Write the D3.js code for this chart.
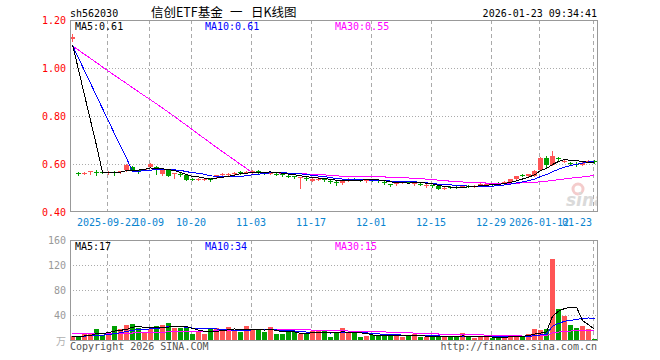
<!DOCTYPE html>
<html>
<head>
<meta charset="utf-8">
<script src="https://cdn.jsdelivr.net/npm/d3@7"></script>
<style>
  body { margin: 0; background: #fff; }
  svg text { font-family: "DejaVu Sans Mono", monospace; font-size: 10px; }
</style>
</head>
<body>
<div id="chart"></div>
<script>
// Header texts
var code = "sh562030";
var titleParts = ["信创ETF基金", "一", "日K线图"];
var stamp = "2026-01-23 09:34:41";

// Daily candles (88 sessions, 2025-09-12 .. 2026-01-23)
var openP = [1.120,0.563,0.560,0.568,0.568,0.567,0.563,0.566,0.570,0.575,
  0.588,0.573,0.575,0.588,0.588,0.558,0.580,0.561,0.559,0.554,
  0.539,0.537,0.536,0.538,0.553,0.555,0.557,0.560,0.566,0.564,
  0.565,0.569,0.566,0.559,0.560,0.557,0.552,0.548,0.540,0.541,
  0.530,0.536,0.538,0.528,0.524,0.519,0.535,0.538,0.537,0.531,
  0.534,0.532,0.527,0.515,0.517,0.524,0.527,0.520,0.518,0.510,
  0.511,0.509,0.498,0.505,0.506,0.505,0.510,0.508,0.514,0.514,
  0.518,0.520,0.519,0.523,0.537,0.556,0.548,0.551,0.576,0.627,
  0.597,0.625,0.612,0.606,0.602,0.596,0.613,0.611];
var closeP = [1.128,0.561,0.562,0.569,0.566,0.565,0.565,0.564,0.571,0.596,
  0.572,0.571,0.578,0.600,0.577,0.574,0.552,0.562,0.557,0.535,
  0.537,0.539,0.538,0.536,0.555,0.557,0.559,0.562,0.564,0.567,
  0.572,0.567,0.561,0.567,0.558,0.555,0.550,0.546,0.546,0.539,
  0.539,0.538,0.536,0.526,0.522,0.532,0.537,0.536,0.535,0.535,
  0.532,0.530,0.519,0.513,0.519,0.527,0.525,0.522,0.516,0.512,
  0.509,0.496,0.500,0.503,0.504,0.508,0.508,0.510,0.516,0.516,
  0.517,0.518,0.527,0.537,0.551,0.554,0.558,0.572,0.627,0.597,
  0.634,0.623,0.614,0.604,0.600,0.606,0.614,0.609];
var highP = [1.140,0.568,0.566,0.570,0.576,0.570,0.570,0.572,0.572,0.598,
  0.590,0.576,0.580,0.606,0.590,0.582,0.581,0.563,0.563,0.556,
  0.542,0.543,0.541,0.540,0.556,0.561,0.563,0.566,0.570,0.569,
  0.574,0.573,0.567,0.569,0.565,0.560,0.556,0.551,0.547,0.544,
  0.541,0.544,0.541,0.533,0.530,0.533,0.541,0.541,0.539,0.537,
  0.537,0.535,0.528,0.518,0.522,0.530,0.530,0.525,0.521,0.516,
  0.513,0.510,0.504,0.508,0.509,0.511,0.512,0.513,0.519,0.520,
  0.521,0.523,0.528,0.538,0.552,0.559,0.560,0.574,0.630,0.634,
  0.655,0.630,0.620,0.610,0.607,0.607,0.617,0.615];
var lowP = [1.112,0.555,0.557,0.557,0.555,0.561,0.557,0.555,0.562,0.572,
  0.570,0.562,0.573,0.586,0.560,0.555,0.550,0.541,0.552,0.533,
  0.532,0.533,0.532,0.530,0.545,0.551,0.553,0.556,0.559,0.562,
  0.563,0.561,0.558,0.557,0.553,0.549,0.545,0.541,0.498,0.535,
  0.528,0.533,0.531,0.522,0.512,0.518,0.531,0.532,0.528,0.527,
  0.528,0.526,0.517,0.508,0.512,0.520,0.520,0.514,0.511,0.506,
  0.504,0.494,0.494,0.500,0.501,0.503,0.504,0.505,0.511,0.511,
  0.514,0.514,0.518,0.522,0.536,0.548,0.547,0.550,0.574,0.586,
  0.596,0.613,0.608,0.598,0.592,0.595,0.610,0.603];
// Volume, in 万
var volume = [6.4,5.3,10.7,10.7,17.6,7.5,13.3,22.4,17,24,
  25.6,20,13.3,17,22.4,24,27.2,18.7,19,18.7,
  9,14,9,18.7,19,14,21,15.5,12.8,22,
  16,16,12.8,21,9,9,12.8,12.8,9,9,
  15,15,15,5,10.7,19.7,10.7,10.7,5.3,6.4,
  7.5,6.4,9,6.4,7.5,5.3,6.4,9.6,4.5,5.5,
  5,5.5,5.5,5,5,11,5,4,5.5,5,
  3.5,4,4.5,8,8,4.5,10,17,16,17,
  130,50,39,24,20,22,18,2];

// Sessions before the window (only feed the moving averages)
var priorCloses = [1.085,1.090,1.088,1.092,1.095,1.091,1.087,1.089,1.093,1.096,
  1.094,1.090,1.088,1.086,1.089,1.092,1.095,1.097,1.093,1.090,
  1.088,1.091,1.094,1.092,1.089,1.087,1.090,1.093,1.091];
var priorVolumes = [12,11,13,12,10,14,12,11,13,12,
  12,10,13,11,12,12,14,11,12,13,
  7,8,6,7,7,5,5,6,4];

// Axis ticks
var tickIdx = [6, 13, 20, 30, 40, 50, 60, 70, 78, 87];
var tickLabels = ["2025-09-22", "10-09", "10-20", "11-03", "11-17", "12-01", "12-15", "12-29", "2026-01-12", "01-23"];
var priceTicks = [0.40, 0.60, 0.80, 1.00, 1.20];
var volTicks = [40, 80, 120, 160];

var width = 660, height = 360;
var left = 70, right = 597;
var pTop = 20, pBot = 211, vTop = 240, vBot = 340;
var RED = "#ff5555", GREEN = "#00a000";

var n = closeP.length;
var idx = d3.range(n);

var svg = d3.select("#chart").append("svg")
  .attr("width", width).attr("height", height)
  .attr("shape-rendering", "crispEdges");

var x = d3.scaleBand().domain(idx).range([left, left + 6 * n]);
var yP = d3.scaleLinear().domain([0.4, 1.2]).range([212, 20]);
var yV = d3.scaleLinear().domain([0, 160]).range([vBot, vTop]);

function ma(series, prior, k) {
  var all = prior.concat(series);
  return series.map(function(d, i) {
    var end = prior.length + i + 1;
    return d3.mean(all.slice(end - k, end));
  });
}

function cx(i) { return x(i) + 2.5; }
function isUp(i) { return closeP[i] >= openP[i]; }

var defs = svg.append("defs");
defs.append("clipPath").attr("id", "cp").append("rect")
  .attr("x", left).attr("y", pTop).attr("width", right - left + 1).attr("height", pBot - pTop + 1);
defs.append("clipPath").attr("id", "cv").append("rect")
  .attr("x", left).attr("y", vTop).attr("width", right - left + 1).attr("height", vBot - vTop + 1);

// ---- grid
[[pTop, pBot], [vTop, vBot]].forEach(function(p) {
  svg.append("g").selectAll("line").data(tickIdx).join("line")
    .attr("x1", function(d) { return x(d) + 1.5; })
    .attr("x2", function(d) { return x(d) + 1.5; })
    .attr("y1", p[0]).attr("y2", p[1])
    .attr("stroke", "#aaa").attr("stroke-dasharray", "4,3");
});
svg.append("g").selectAll("line").data([0.6, 0.8, 1.0]).join("line")
  .attr("x1", left).attr("x2", right)
  .attr("y1", function(d) { return Math.round(yP(d)) + 0.5; })
  .attr("y2", function(d) { return Math.round(yP(d)) + 0.5; })
  .attr("stroke", "#aaa").attr("stroke-dasharray", "1,2");
svg.append("g").selectAll("line").data([40, 80, 120]).join("line")
  .attr("x1", left).attr("x2", right)
  .attr("y1", function(d) { return Math.round(yV(d)) + 0.5; })
  .attr("y2", function(d) { return Math.round(yV(d)) + 0.5; })
  .attr("stroke", "#aaa").attr("stroke-dasharray", "1,2");

// sina watermark
var wm = svg.append("g").attr("clip-path", "url(#cp)").attr("shape-rendering", "auto");
wm.append("circle").attr("cx", 578).attr("cy", 189).attr("r", 5)
  .attr("fill", "none").attr("stroke", "#f4cccc").attr("stroke-width", 3);
wm.append("text").attr("x", 566).attr("y", 206)
  .style("font-family", "'DejaVu Sans', sans-serif").style("font-size", "17px")
  .style("font-weight", "bold").style("font-style", "italic")
  .attr("fill", "#dadada").text("sina");

// ---- candles
var cg = svg.append("g").attr("clip-path", "url(#cp)");
cg.selectAll("line").data(idx).join("line")
  .attr("x1", cx).attr("x2", cx)
  .attr("y1", function(i) { return Math.round(yP(highP[i])); })
  .attr("y2", function(i) { return Math.round(yP(lowP[i])) + 1; })
  .attr("stroke", function(i) { return isUp(i) ? RED : GREEN; });
cg.selectAll("rect").data(idx).join("rect")
  .attr("x", function(i) { return x(i); })
  .attr("width", 5)
  .attr("y", function(i) { return Math.round(yP(Math.max(openP[i], closeP[i]))); })
  .attr("height", function(i) {
    return Math.max(1, Math.round(yP(Math.min(openP[i], closeP[i]))) - Math.round(yP(Math.max(openP[i], closeP[i]))));
  })
  .attr("fill", function(i) { return isUp(i) ? RED : GREEN; });

// ---- volume bars
var vg = svg.append("g").attr("clip-path", "url(#cv)");
vg.selectAll("rect").data(idx).join("rect")
  .attr("x", function(i) { return x(i); })
  .attr("width", 5)
  .attr("y", function(i) { return Math.round(yV(volume[i])); })
  .attr("height", function(i) { return vBot - Math.round(yV(volume[i])); })
  .attr("fill", function(i) { return isUp(i) ? RED : GREEN; });

// ---- moving averages
var maDefs = [[5, "#000"], [10, "#0000ff"], [30, "#ff00ff"]];
var pMA = {}, vMA = {};
maDefs.forEach(function(m) {
  pMA[m[0]] = ma(closeP, priorCloses, m[0]);
  vMA[m[0]] = ma(volume, priorVolumes, m[0]);
});
maDefs.slice().reverse().forEach(function(m) {
  cg.append("path").datum(pMA[m[0]])
    .attr("fill", "none").attr("stroke", m[1])
    .attr("d", d3.line().x(function(d, i) { return cx(i); }).y(function(d) { return yP(d); }));
  vg.append("path").datum(vMA[m[0]])
    .attr("fill", "none").attr("stroke", m[1])
    .attr("d", d3.line().x(function(d, i) { return cx(i); }).y(function(d) { return yV(d); }));
});

// ---- frames
[[pTop, pBot], [vTop, vBot]].forEach(function(p) {
  svg.append("rect")
    .attr("x", left + 0.5).attr("y", p[0] + 0.5)
    .attr("width", right - left).attr("height", p[1] - p[0])
    .attr("fill", "none").attr("stroke", "#999");
});

// ---- axis labels
svg.append("g").selectAll("text").data(priceTicks).join("text")
  .attr("x", 66).attr("y", function(d) { return yP(d); }).attr("dy", "0.35em")
  .attr("text-anchor", "end").attr("fill", "#f00")
  .text(function(d) { return d3.format(".2f")(d); });
svg.append("g").selectAll("text").data(volTicks).join("text")
  .attr("x", 66).attr("y", function(d) { return yV(d); }).attr("dy", "0.35em")
  .attr("text-anchor", "end").attr("fill", "#999")
  .text(function(d) { return d; });
svg.append("text").attr("x", 66).attr("y", vBot + 1).attr("dy", "0.35em")
  .attr("text-anchor", "end").attr("fill", "#b0b0b0")
  .style("font-family", "'Noto Sans CJK SC', sans-serif").style("font-size", "10px")
  .text("万");

svg.append("g").selectAll("text").data(tickIdx).join("text")
  .attr("x", function(d, k) { return k === tickIdx.length - 1 ? 592 : x(d) + 1; })
  .attr("y", 226)
  .attr("text-anchor", function(d, k) { return k === tickIdx.length - 1 ? "end" : "middle"; })
  .attr("fill", "#0a84d0")
  .text(function(d, k) { return tickLabels[k]; });

// ---- legends
var last = n - 1;
var pLeg = [["MA5:", 75, "#000", 5], ["MA10:", 205, "#0000ff", 10], ["MA30:", 335, "#ff00ff", 30]];
pLeg.forEach(function(l) {
  svg.append("text").attr("x", l[1]).attr("y", 30).attr("fill", l[2])
    .text(l[0] + d3.format(".2f")(pMA[l[3]][last]));
  svg.append("text").attr("x", l[1]).attr("y", 250).attr("fill", l[2])
    .text(l[0] + Math.round(vMA[l[3]][last]));
});

// ---- header / footer
svg.append("text").attr("x", 70).attr("y", 17).attr("fill", "#000").text(code);
var tg = svg.append("g").style("font-family", "'Noto Sans CJK SC', sans-serif");
[[151, titleParts[0]], [230, titleParts[1]], [251, titleParts[2]]].forEach(function(t) {
  tg.append("text").attr("x", t[0]).attr("y", 17).attr("fill", "#000")
    .style("font-family", "'Noto Sans CJK SC', sans-serif").style("font-size", "12.5px")
    .text(t[1]);
});
svg.append("text").attr("x", 597).attr("y", 17).attr("text-anchor", "end").attr("fill", "#000").text(stamp);
svg.append("text").attr("x", 70).attr("y", 350).attr("fill", "#555").text("Copyright 2026 SINA.COM");
svg.append("text").attr("x", 597).attr("y", 350).attr("text-anchor", "end").attr("fill", "#555").text("http://finance.sina.com.cn");
</script>
</body>
</html>
